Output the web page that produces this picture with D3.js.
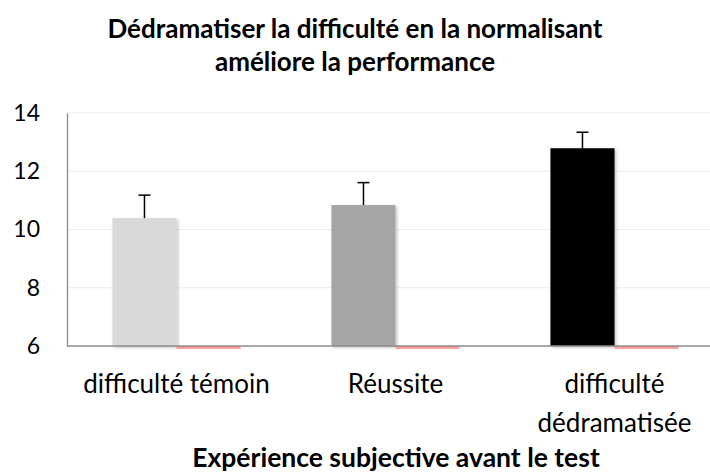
<!DOCTYPE html>
<html>
<head>
<meta charset="utf-8">
<script src="https://cdn.jsdelivr.net/npm/d3@7"></script>
<style>
  body { margin: 0; background: #fff; }
  text { font-family: Lato, "Open Sans", sans-serif; fill: #000; }
</style>
</head>
<body>
<div id="chart"></div>
<script>
// data
const categories = ["difficulté témoin", "Réussite", "difficulté dédramatisée"]
const series = ["score", "autre"]
const scoreValues = [10.39, 10.84, 12.79]
const scoreErrors = [0.79, 0.77, 0.55]
const otherValues = [5.9, 5.9, 5.9]
const yTicks = [6, 8, 10, 12, 14]
const barColors = ["#d9d9d9", "#a5a5a5", "#000000"]
const otherColor = "#ff9b96"

const width = 710, height = 476
const margin = {top: 113, right: 0, bottom: 130, left: 67}

const svg = d3.select("#chart")
    .append("svg")
    .attr("width", width)
    .attr("height", height)

// soft shadow like the office chart
const defs = svg.append("defs")
const filter = defs.append("filter").attr("id", "shadow")
    .attr("x", "-10%").attr("y", "-5%").attr("width", "125%").attr("height", "115%")
filter.append("feDropShadow")
    .attr("dx", 1.5).attr("dy", 1.5).attr("stdDeviation", 1.5)
    .attr("flood-color", "#000").attr("flood-opacity", 0.25)

const y = d3.scaleLinear()
    .domain([6, 14])
    .range([height - margin.bottom, margin.top])

const x = d3.scaleBand()
    .domain(categories)
    .range([margin.left, 724])
    .paddingInner(0.415)
    .paddingOuter(0.2075)

const x1 = d3.scaleBand()
    .domain(series)
    .range([0, x.bandwidth()])

// gridlines
svg.append("g")
    .selectAll("line")
    .data(yTicks.slice(1))
    .join("line")
    .attr("x1", margin.left)
    .attr("x2", width)
    .attr("y1", d => y(d))
    .attr("y2", d => y(d))
    .attr("stroke", "#ececec")
    .attr("stroke-width", 1.2)

// y axis
const yAxis = svg.append("g")
    .attr("transform", "translate(" + margin.left + ",0)")
    .call(d3.axisLeft(y).tickValues(yTicks).tickSize(0).tickPadding(27))
yAxis.select(".domain").attr("stroke", "#8c8c8c").attr("stroke-width", 1.3)
yAxis.selectAll("text").style("font-size", "23px")

// main bars
svg.append("g")
    .selectAll("rect")
    .data(categories)
    .join("rect")
    .attr("x", d => x(d) + x1("score"))
    .attr("width", x1.bandwidth())
    .attr("y", (d, i) => y(scoreValues[i]))
    .attr("height", (d, i) => y(6) - y(scoreValues[i]))
    .attr("fill", (d, i) => barColors[i])
    .attr("filter", "url(#shadow)")

// second series, just below the axis
svg.append("g")
    .selectAll("rect")
    .data(categories)
    .join("rect")
    .attr("x", d => x(d) + x1("autre"))
    .attr("width", x1.bandwidth())
    .attr("y", y(6))
    .attr("height", (d, i) => y(otherValues[i]) - y(6))
    .attr("fill", otherColor)

// x axis line
svg.append("line")
    .attr("x1", margin.left)
    .attr("x2", width)
    .attr("y1", y(6))
    .attr("y2", y(6))
    .attr("stroke", "#8c8c8c")
    .attr("stroke-width", 1.3)

// error bars (plus side only)
const err = svg.append("g")
    .selectAll("g")
    .data(categories)
    .join("g")
    .attr("stroke", "#000")
    .attr("stroke-width", 1.5)
err.append("line")
    .attr("x1", d => x(d) + x1("score") + x1.bandwidth() / 2)
    .attr("x2", d => x(d) + x1("score") + x1.bandwidth() / 2)
    .attr("y1", (d, i) => y(scoreValues[i]))
    .attr("y2", (d, i) => y(scoreValues[i] + scoreErrors[i]))
err.append("line")
    .attr("x1", d => x(d) + x1("score") + x1.bandwidth() / 2 - 6)
    .attr("x2", d => x(d) + x1("score") + x1.bandwidth() / 2 + 6)
    .attr("y1", (d, i) => y(scoreValues[i] + scoreErrors[i]))
    .attr("y2", (d, i) => y(scoreValues[i] + scoreErrors[i]))

// category labels
const catLines = [["difficulté témoin"], ["Réussite"], ["difficulté", "dédramatisée"]]
svg.append("g")
    .selectAll("text")
    .data(categories)
    .join("text")
    .attr("text-anchor", "middle")
    .attr("x", d => x(d) + x.bandwidth() / 2)
    .attr("y", 393)
    .style("font-size", "26px")
    .selectAll("tspan")
    .data((d, i) => catLines[i])
    .join("tspan")
    .attr("x", function() { return d3.select(this.parentNode).attr("x") })
    .attr("dy", (d, i) => i === 0 ? 0 : 39)
    .text(d => d)

// titles
svg.append("text")
    .attr("x", 355).attr("y", 38)
    .attr("text-anchor", "middle")
    .style("font-size", "26px").style("font-weight", "bold")
    .text("Dédramatiser la difficulté en la normalisant")
svg.append("text")
    .attr("x", 355).attr("y", 71)
    .attr("text-anchor", "middle")
    .style("font-size", "26px").style("font-weight", "bold")
    .text("améliore la performance")

svg.append("text")
    .attr("x", 396).attr("y", 467)
    .attr("text-anchor", "middle")
    .style("font-size", "26.5px").style("font-weight", "bold")
    .text("Expérience subjective avant le test")
</script>
</body>
</html>
